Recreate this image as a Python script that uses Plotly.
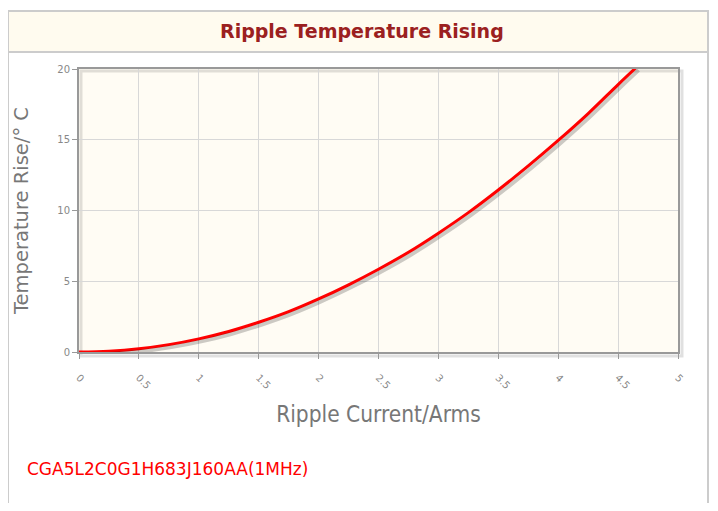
import plotly.graph_objects as go

# Data
current = [0, 0.25, 0.5, 0.75, 1.0, 1.25, 1.5, 1.75, 2.0, 2.25, 2.5, 2.75, 3.0, 3.25, 3.5, 3.75, 4.0, 4.25, 4.5, 4.65]
temp_rise = [0, 0.06, 0.23, 0.52, 0.93, 1.45, 2.1, 2.85, 3.75, 4.75, 5.85, 7.05, 8.4, 9.85, 11.45, 13.15, 14.95, 16.85, 18.9, 20.1]
x_ticks = [0, 0.5, 1, 1.5, 2, 2.5, 3, 3.5, 4, 4.5, 5]
x_tick_labels = ["0", "0.5", "1", "1.5", "2", "2.5", "3", "3.5", "4", "4.5", "5"]
y_ticks = [0, 5, 10, 15, 20]
y_tick_labels = ["0", "5", "10", "15", "20"]

OFF = 8  # page body margin
W, H = 718 - 2 * OFF, 511 - 2 * OFF
# plot area in page pixels: x 79..678, y 69..352
L = 79 - OFF
T = 69 - OFF
R = W - (678 - OFF)
B = H - (352 - OFF)
pw, ph = W - L - R, H - T - B

def px(xp):
    return (xp - OFF - L) / pw

def py(yp):
    return (H - B - (yp - OFF)) / ph

fig = go.Figure()

# shadow of curve (same data, axes shifted by a couple of pixels)
fig.add_trace(go.Scatter(x=current, y=temp_rise, mode="lines", line=dict(color="rgba(0,0,0,0.2)", width=4, shape="spline"),
                         xaxis="x2", yaxis="y2", hoverinfo="skip", showlegend=False))
fig.add_trace(go.Scatter(x=current, y=temp_rise, mode="lines", line=dict(color="#ff0000", width=3, shape="spline"),
                         showlegend=False))

dx = 5 / pw * 2.5
dy = 20 / ph * 2.5

font_main = "DejaVu Sans"

fig.update_layout(
    width=W, height=H,
    margin=dict(l=L, r=R, t=T, b=B),
    paper_bgcolor="white",
    plot_bgcolor="#fffcf4",
    xaxis=dict(range=[0, 5], tickvals=x_ticks, ticktext=x_tick_labels, tickangle=45,
               showgrid=True, gridcolor="#d8d8d8", gridwidth=1,
               showline=True, linecolor="#999999", linewidth=2, mirror=True,
               ticks="outside", ticklen=5, tickcolor="#999999", ticklabelstandoff=9,
               tickfont=dict(family=font_main, size=10, color="#888888"),
               title=dict(text="Ripple Current/Arms", font=dict(family="DejaVu Sans Condensed", size=22.5, color="#777777"), standoff=16),
               zeroline=False, fixedrange=True),
    yaxis=dict(range=[0, 20], tickvals=y_ticks, ticktext=y_tick_labels,
               showgrid=True, gridcolor="#d8d8d8", gridwidth=1,
               showline=True, linecolor="#999999", linewidth=2, mirror=True,
               ticks="outside", ticklen=5, tickcolor="#999999",
               tickfont=dict(family=font_main, size=10, color="#888888"),
               title=dict(text="Temperature Rise/° C", font=dict(family=font_main, size=19.5, color="#777777"), standoff=23),
               zeroline=False, fixedrange=True),
    xaxis2=dict(range=[0 - dx, 5 - dx], overlaying="x", visible=False, fixedrange=True),
    yaxis2=dict(range=[0 + dy, 20 + dy], overlaying="y", visible=False, fixedrange=True),
    shapes=[
        # outer panel
        dict(type="rect", xref="paper", yref="paper", x0=px(8), x1=px(708), y0=py(600), y1=py(11),
             line=dict(color="#cccccc", width=2), fillcolor="rgba(0,0,0,0)", layer="below"),
        # title bar
        dict(type="rect", xref="paper", yref="paper", x0=px(8), x1=px(708), y0=py(52), y1=py(11),
             line=dict(color="#cccccc", width=2), fillcolor="#fffbef", layer="below"),
        # plot frame shadow
        dict(type="rect", xref="paper", yref="paper", x0=px(81), x1=px(682), y0=py(356), y1=py(71),
             line=dict(color="rgba(0,0,0,0.12)", width=3), fillcolor="rgba(0,0,0,0)", layer="below"),
    ],
    annotations=[
        dict(text="<b>Ripple Temperature Rising</b>", xref="paper", yref="paper", x=px(362), y=py(31),
             xanchor="center", yanchor="middle", showarrow=False,
             font=dict(family=font_main, size=19, color="#9b2020")),
        dict(text="CGA5L2C0G1H683J160AA(1MHz)", xref="paper", yref="paper", x=px(25), y=py(469),
             xanchor="left", yanchor="middle", showarrow=False,
             font=dict(family=font_main, size=17, color="#ff0000")),
    ],
)

fig.write_html("out.html")
